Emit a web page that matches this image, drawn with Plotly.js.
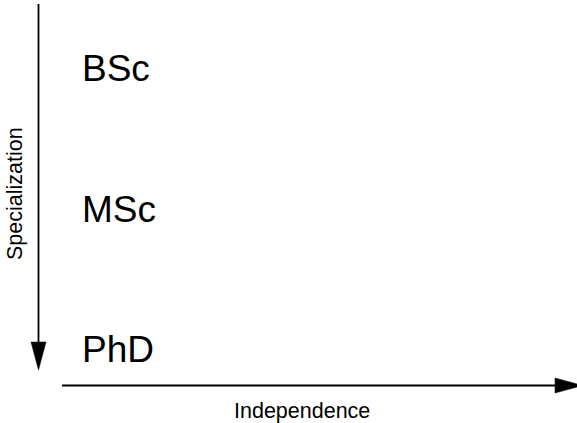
<!DOCTYPE html>
<html>
<head>
<meta charset="utf-8">
<script src="https://cdn.plot.ly/plotly-3.0.1.min.js"></script>
<style>html,body{margin:0;padding:0;background:#fff;}#chart{width:577px;height:423px;}</style>
</head>
<body>
<div id="chart"></div>
<script>
// Data
var levels = ["BSc", "MSc", "PhD"];
var levelRank = [0, 1, 2];
var xTitle = "Independence";
var yTitle = "Specialization";

var W = 577, H = 423;
var FONT = "Liberation Sans, Arial, Helvetica, sans-serif";
function py(p) { return 1 - p / H; } // pixel-from-top -> paper y
function px(p) { return p / W; }

// category axis: rank 0 at ~69px, rank 2 at ~350px from top
var topPx = 68.5, botPx = 349.5;
var unit = (botPx - topPx) / 2;
var yRange = [2 + (H - botPx) / unit, 0 - topPx / unit];

var trace = {
  type: "scatter",
  mode: "markers",
  x: levels.map(function () { return 0; }),
  y: levels,
  marker: { opacity: 0, size: 1 },
  hoverinfo: "skip",
  showlegend: false
};

var annotations = levels.map(function (lv) {
  return {
    x: px(79.5), xref: "paper", xanchor: "left",
    y: lv, yref: "y", yanchor: "middle",
    text: lv, showarrow: false,
    font: { family: FONT, size: 37, color: "#000" }
  };
});
annotations.push({
  x: px(301.5), xref: "paper", xanchor: "center",
  y: py(411), yref: "paper", yanchor: "middle",
  text: xTitle, showarrow: false,
  font: { family: FONT, size: 21.5, color: "#000" }
});
annotations.push({
  x: px(15), xref: "paper", xanchor: "center",
  y: py(194), yref: "paper", yanchor: "middle",
  text: yTitle, showarrow: false, textangle: -90,
  font: { family: FONT, size: 21.5, color: "#000" }
});

var shapes = [
  { type: "line", xref: "paper", yref: "paper",
    x0: px(38.5), x1: px(38.5), y0: py(4), y1: py(344),
    line: { color: "#000", width: 1.8 } },
  { type: "path", xref: "paper", yref: "paper",
    path: "M" + px(31) + "," + py(342) + " L" + px(46) + "," + py(342) + " L" + px(38.5) + "," + py(370) + " Z",
    fillcolor: "#000", line: { color: "#000", width: 0.5 } },
  { type: "line", xref: "paper", yref: "paper",
    x0: px(62), x1: px(557), y0: py(385.5), y1: py(385.5),
    line: { color: "#000", width: 1.8 } },
  { type: "path", xref: "paper", yref: "paper",
    path: "M" + px(555) + "," + py(378) + " L" + px(555) + "," + py(393) + " L" + px(583) + "," + py(385.5) + " Z",
    fillcolor: "#000", line: { color: "#000", width: 0.5 } }
];

var layout = {
  width: W, height: H,
  margin: { l: 0, r: 0, t: 0, b: 0, pad: 0 },
  paper_bgcolor: "#fff", plot_bgcolor: "#fff",
  showlegend: false,
  xaxis: { range: [0, 1], visible: false, fixedrange: true },
  yaxis: { type: "category", categoryorder: "array", categoryarray: levels,
           range: yRange, visible: false, fixedrange: true },
  annotations: annotations,
  shapes: shapes
};

Plotly.newPlot("chart", [trace], layout, { staticPlot: true, displayModeBar: false });
</script>
</body>
</html>
